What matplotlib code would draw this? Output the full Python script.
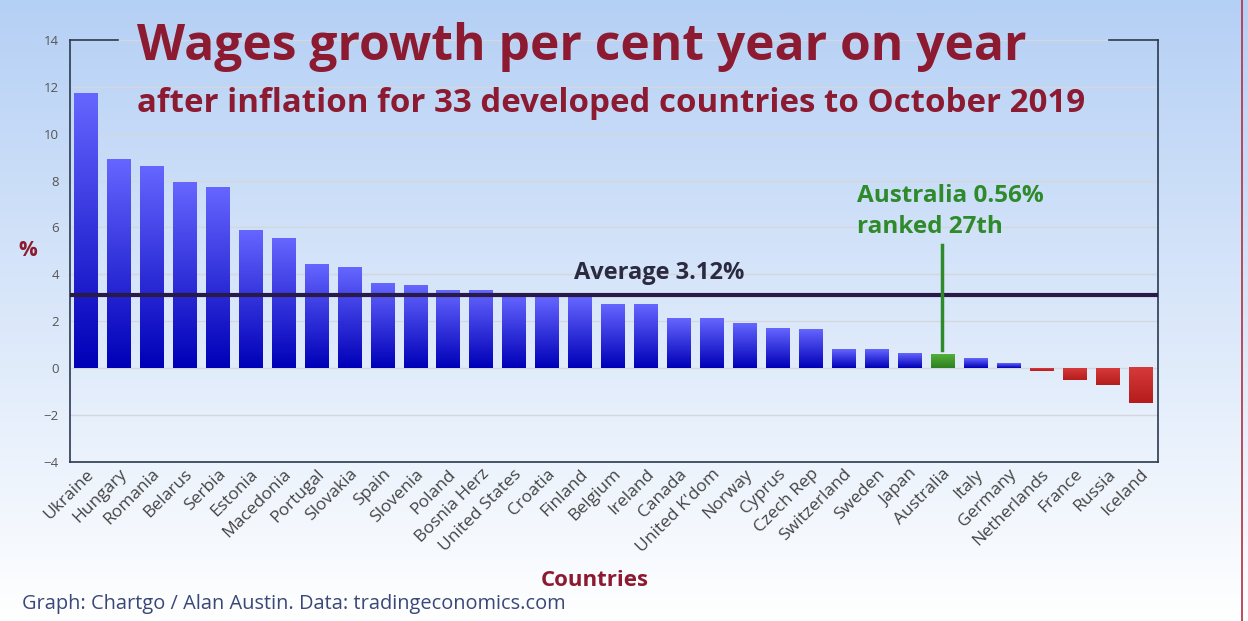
import numpy as np
import matplotlib
matplotlib.use("Agg")
import matplotlib.pyplot as plt
from matplotlib.colors import to_rgb
from matplotlib.transforms import ScaledTranslation

plt.rcParams['font.family'] = ['Open Sans', 'DejaVu Sans']

countries = ["Ukraine", "Hungary", "Romania", "Belarus", "Serbia", "Estonia",
             "Macedonia", "Portugal", "Slovakia", "Spain", "Slovenia", "Poland",
             "Bosnia Herz", "United States", "Croatia", "Finland", "Belgium",
             "Ireland", "Canada", "United K'dom", "Norway", "Cyprus", "Czech Rep",
             "Switzerland", "Sweden", "Japan", "Australia", "Italy", "Germany",
             "Netherlands", "France", "Russia", "Iceland"]
growth = [11.7, 8.9, 8.6, 7.9, 7.7, 5.85, 5.5, 4.4, 4.3, 3.6, 3.5, 3.3,
          3.3, 3.1, 3.0, 3.0, 2.7, 2.7, 2.1, 2.1, 1.9, 1.7, 1.65,
          0.8, 0.8, 0.6, 0.56, 0.4, 0.2, -0.1, -0.5, -0.7, -1.5]
average = 3.12
highlight = "Australia"

DARK_RED = "#8c1a30"

fig = plt.figure(figsize=(12.48, 6.21), dpi=100)

# background gradient, light blue at top fading to white
bg = fig.add_axes([0, 0, 1, 1], zorder=-10)
top_c = np.array(to_rgb("#b5d0f5"))
bot_c = np.array([1.0, 1.0, 1.0])
t = np.linspace(0, 1, 256)[:, None]
grad = (top_c * (1 - t) + bot_c * t)[:, None, :]
bg.imshow(grad, aspect="auto", extent=[0, 1, 0, 1])
bg.axis("off")
bg.plot([0.9955, 0.9955], [0.0, 1.0], color="#b03040", lw=1.2)
bg.set_xlim(0, 1)
bg.set_ylim(0, 1)

ax = fig.add_axes([0.0561, 0.256, 0.872, 0.680])
ax.patch.set_alpha(0)

x = np.arange(len(countries))
width = 0.7


def grad_bar(xc, h, c_top, c_bot):
    tt = np.linspace(0, 1, 64)[:, None]
    img = (np.array(to_rgb(c_top)) * (1 - tt) + np.array(to_rgb(c_bot)) * tt)[:, None, :]
    lo, hi = min(0, h), max(0, h)
    ax.imshow(img, aspect="auto", extent=[xc - width / 2, xc + width / 2, lo, hi],
              zorder=2, interpolation="bilinear")


for xi, name, v in zip(x, countries, growth):
    if name == highlight:
        grad_bar(xi, v, "#52b03a", "#2e8020")
    elif v >= 0:
        grad_bar(xi, v, "#6565ff", "#0000b8")
    else:
        grad_bar(xi, v, "#d63a3a", "#b51c1c")

ax.set_xlim(-0.47, len(countries) - 0.45)
ax.set_ylim(-4, 14)
ax.set_yticks(np.arange(-4, 15, 2))
ax.grid(axis="y", color="#d4d8de", lw=1, zorder=0)
ax.set_axisbelow(True)

ax.axhline(average, color="#2a1a48", lw=3, zorder=4)
ax.text(17.4, 4.05, "Average %.2f%%" % average, fontsize=17,
        fontweight="bold", color="#2a2a40", ha="center", va="center", zorder=5)

# Australia callout
ai = countries.index(highlight)
ax.plot([ai, ai], [0.77, 5.25], color="#2e8a2a", lw=2.5, zorder=5)
ax.text(ai - 2.6, 5.5, "%s %.2f%%\nranked %dth" % (highlight, growth[ai], ai + 1),
        fontsize=17.5, fontweight="bold", color="#2e8a2a", ha="left", va="bottom",
        linespacing=1.38, zorder=5)

ax.set_xticks(x)
ax.set_xticklabels(countries, rotation=45, ha="right", rotation_mode="anchor",
                   fontsize=12.5, color="#444444")
shift = ScaledTranslation(14 / 100, 0, fig.dpi_scale_trans)
for lab in ax.get_xticklabels():
    lab.set_transform(lab.get_transform() + shift)
ax.tick_params(axis="x", length=0, pad=3)
ax.tick_params(axis="y", length=0, pad=8, labelsize=9.5, labelcolor="#555555")

for side in ["left", "right", "bottom"]:
    ax.spines[side].set_color("#2a3a50")
    ax.spines[side].set_linewidth(1.2)
ax.spines["top"].set_visible(False)
# top frame only shows outside the title
ax.plot([0, 0.044], [1, 1], transform=ax.transAxes, color="#2a3a50", lw=1.2, clip_on=False)
ax.plot([0.955, 1], [1, 1], transform=ax.transAxes, color="#2a3a50", lw=1.2, clip_on=False)

ax.set_ylabel("%", rotation=0, fontsize=15, fontweight="bold", color=DARK_RED)
ax.yaxis.set_label_coords(-0.039, 0.475)
ax.set_xlabel("Countries", fontsize=16, fontweight="bold", color=DARK_RED)
ax.xaxis.set_label_coords(0.482, -0.255)

fig.text(0.110, 0.925, "Wages growth per cent year on year", fontsize=35.8,
         fontweight="bold", color=DARK_RED, ha="left", va="center")
fig.text(0.110, 0.834, "after inflation for 33 developed countries to October 2019",
         fontsize=23.8, fontweight="bold", color=DARK_RED, ha="left", va="center")
fig.text(0.018, 0.028, "Graph: Chartgo / Alan Austin. Data: tradingeconomics.com",
         fontsize=14.4, color="#3a4878", ha="left", va="center")

fig.savefig("out.png", dpi=100)
